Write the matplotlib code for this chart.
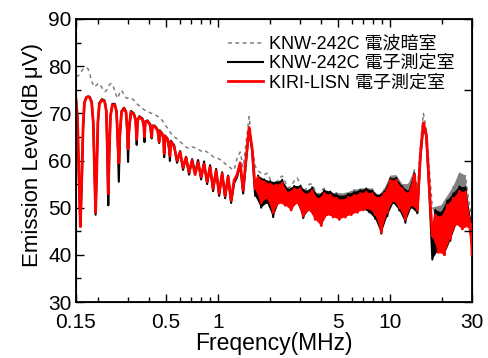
import matplotlib
matplotlib.use('Agg')
import matplotlib.pyplot as plt
from matplotlib.ticker import NullFormatter

plt.rcParams['font.family'] = ['Liberation Sans', 'Noto Sans CJK JP', 'DejaVu Sans']

# Frequencies (MHz) - low band with the comb dips, then the noisy band
freq_lf = [0.150, 0.153, 0.156, 0.159, 0.162, 0.165, 0.168, 0.172, 0.176, 0.180,
           0.185, 0.189, 0.192, 0.195, 0.198, 0.201, 0.205, 0.212, 0.220, 0.225,
           0.228, 0.231, 0.234, 0.238, 0.244, 0.252, 0.258, 0.262, 0.266, 0.270,
           0.276, 0.285, 0.293, 0.298, 0.301, 0.305, 0.313, 0.325, 0.333, 0.338,
           0.342, 0.350, 0.365, 0.372, 0.375, 0.379, 0.390, 0.405, 0.410, 0.413,
           0.417, 0.430, 0.445, 0.452, 0.456, 0.460, 0.475, 0.484, 0.488, 0.493,
           0.510, 0.522, 0.527, 0.533, 0.545]
freq_hf = [0.557, 0.580, 0.604, 0.628, 0.654, 0.681, 0.709, 0.738, 0.768, 0.800,
           0.832, 0.867, 0.902, 0.939, 0.978, 1.018, 1.060, 1.103, 1.148, 1.195,
           1.244, 1.295, 1.349, 1.404, 1.461, 1.521, 1.584, 1.649, 1.716, 1.787,
           1.860, 1.936, 2.016, 2.098, 2.184, 2.274, 2.367, 2.464, 2.565, 2.671,
           2.780, 2.894, 3.013, 3.137, 3.265, 3.399, 3.538, 3.684, 3.835, 3.992,
           4.156, 4.326, 4.503, 4.688, 4.880, 5.081, 5.289, 5.506, 5.732, 5.967,
           6.211, 6.466, 6.731, 7.007, 7.294, 7.593, 7.905, 8.229, 8.566, 8.917,
           9.283, 9.664, 10.06, 10.47, 10.90, 11.35, 11.81, 12.30, 12.80, 13.33,
           13.87, 14.44, 15.03, 15.65, 16.29, 16.96, 17.65, 18.38, 19.13, 19.91,
           20.73, 21.58, 22.46, 23.38, 24.34, 25.34, 26.38, 27.46, 28.59, 29.76,
           30.0]

# KNW-242C, anechoic chamber (dB uV)
grey_lf = [77.8, 77.9, 78.1, 78.5, 79.0, 79.4, 79.6, 79.6, 79.5, 78.5,
           76.8, 76.0, 75.6, 75.8, 76.0, 76.3, 76.3, 75.5, 74.6, 74.8,
           75.2, 75.6, 76.0, 76.3, 76.2, 74.8, 73.6, 73.2, 73.8, 74.5,
           74.9, 74.0, 73.3, 73.2, 73.3, 73.3, 73.3, 72.8, 72.3, 72.1,
           71.9, 71.6, 71.0, 70.8, 70.7, 70.6, 70.4, 70.1, 70.0, 70.0,
           69.9, 69.7, 69.4, 69.3, 69.2, 69.0, 68.5, 68.1, 67.9, 67.6,
           66.9, 66.3, 66.1, 65.8, 65.4]
grey_hf = [65.0, 64.6, 64.0, 63.4, 62.8, 62.6, 62.9, 62.7, 62.4, 62.0,
           62.2, 61.8, 61.4, 60.8, 60.6, 60.3, 60.0, 59.3, 59.0, 58.3,
           58.0, 60.5, 61.8, 58.6, 64.0, 69.3, 62.8, 58.8, 57.8, 57.3,
           57.0, 57.3, 56.0, 54.5, 55.2, 56.3, 56.7, 55.5, 54.2, 54.5,
           55.7, 56.3, 55.0, 53.6, 54.0, 55.0, 55.0, 53.5, 52.8, 53.6,
           54.1, 53.5, 53.0, 51.0, 53.2, 50.5, 53.0, 50.8, 53.3, 51.0,
           53.8, 51.5, 54.0, 52.0, 54.2, 52.0, 54.0, 50.5, 52.5, 50.0,
           54.0, 52.5, 56.8, 54.0, 56.9, 53.0, 55.0, 51.5, 55.0, 54.0,
           58.0, 53.5, 63.0, 70.0, 66.5, 58.0, 50.0, 49.5, 46.0, 50.5,
           46.0, 52.5, 48.5, 54.5, 51.0, 57.5, 52.0, 56.8, 52.0, 48.0,
           43.8]

# KNW-242C, electronics lab
black_lf = [73.0, 69.0, 56.0, 46.0, 55.0, 67.0, 72.3, 73.4, 73.6, 73.5,
            72.5, 68.0, 58.0, 48.5, 58.0, 68.0, 72.2, 73.0, 72.7, 70.7,
            62.0, 50.5, 61.0, 69.5, 72.0, 72.0, 70.5, 64.0, 55.5, 65.0,
            70.5, 71.2, 70.4, 65.5, 59.7, 66.0, 70.5, 70.0, 68.8, 63.3,
            68.5, 69.4, 68.9, 67.3, 63.9, 68.3, 68.5, 67.7, 65.5, 64.7,
            67.4, 67.4, 66.7, 65.5, 63.7, 66.4, 65.8, 64.5, 60.7, 65.3,
            64.7, 62.5, 59.9, 64.2, 63.7]
black_hf = [63.3, 59.5, 62.0, 58.0, 60.8, 57.0, 60.3, 57.3, 60.1, 56.0,
            59.8, 55.0, 59.0, 53.5, 58.2, 52.5, 57.5, 52.0, 56.8, 51.0,
            55.2, 56.5, 59.2, 53.0, 60.0, 66.5, 62.0, 52.5, 56.8, 50.0,
            56.0, 51.0, 55.6, 48.0, 55.4, 51.2, 55.9, 50.7, 53.9, 49.7,
            54.6, 51.2, 54.6, 47.8, 53.5, 49.7, 54.3, 47.7, 52.6, 46.5,
            53.7, 48.7, 53.4, 48.2, 52.8, 47.7, 52.4, 48.2, 52.9, 48.7,
            53.3, 49.2, 53.7, 49.7, 54.0, 49.0, 53.6, 47.6, 52.6, 44.5,
            53.4, 48.2, 56.2, 51.0, 56.3, 49.4, 54.5, 46.8, 53.5, 50.0,
            57.3, 48.8, 60.5, 67.5, 65.0, 53.0, 39.0, 49.5, 41.0, 49.0,
            40.0, 51.5, 43.0, 53.0, 46.5, 54.5, 45.5, 54.3, 46.5, 47.0,
            41.0]

# KIRI-LISN, electronics lab
red_lf = [73.0, 69.0, 57.0, 46.0, 56.0, 67.5, 72.3, 73.3, 73.5, 73.4,
          72.3, 68.0, 58.0, 49.0, 58.0, 68.0, 72.0, 72.8, 72.5, 70.5,
          63.0, 53.0, 62.0, 69.5, 71.8, 71.8, 70.3, 65.0, 59.5, 66.0,
          70.3, 71.0, 70.2, 66.5, 62.5, 67.0, 70.3, 69.8, 68.6, 64.5,
          68.5, 69.2, 68.7, 67.2, 65.0, 68.2, 68.3, 67.5, 66.0, 65.0,
          67.3, 67.2, 66.5, 65.5, 64.0, 66.2, 65.6, 64.5, 61.5, 65.2,
          64.5, 62.5, 61.0, 64.0, 63.5]
red_hf = [63.0, 60.0, 61.8, 58.5, 60.6, 57.5, 60.0, 57.0, 59.6, 56.5,
          59.2, 55.5, 58.6, 54.0, 57.8, 53.0, 57.2, 52.5, 56.6, 51.5,
          55.8, 57.0, 59.5, 53.7, 60.5, 67.0, 62.5, 54.0, 56.5, 51.0,
          55.5, 52.0, 55.0, 48.9, 54.8, 51.0, 55.2, 50.5, 53.2, 49.5,
          54.0, 51.0, 54.0, 48.2, 52.8, 49.5, 53.6, 47.5, 51.8, 46.2,
          53.0, 48.5, 52.7, 48.0, 52.0, 47.5, 51.6, 48.0, 52.2, 48.5,
          52.6, 49.0, 53.0, 49.5, 53.3, 49.8, 53.0, 48.5, 52.0, 44.8,
          53.0, 49.0, 55.8, 51.5, 55.8, 50.0, 54.0, 47.5, 53.0, 50.5,
          57.0, 49.5, 61.0, 68.0, 65.5, 54.0, 44.0, 48.5, 40.5, 48.0,
          40.0, 50.5, 43.5, 52.0, 46.5, 53.5, 45.5, 53.3, 46.0, 46.5,
          40.0]

labels = ['KNW-242C 電波暗室', 'KNW-242C 電子測定室', 'KIRI-LISN 電子測定室']
x_major = [0.15, 0.5, 1, 5, 10, 30]
x_major_labels = ['0.15', '0.5', '1', '5', '10', '30']
x_minor = [0.2, 0.3, 0.4, 0.6, 0.7, 0.8, 0.9, 2, 3, 4, 6, 7, 8, 9, 20]

# stretches of the trace that are dense noise (index ranges into *_hf)
noisy_spans = [(27, 82), (86, 101)]


def shade_band(ax, f, y, color, z):
    # fill between the local peaks and local troughs of a noisy trace
    up, lo = [], []
    for i in range(len(y)):
        prev = y[i - 1] if i > 0 else y[i]
        nxt = y[i + 1] if i < len(y) - 1 else y[i]
        if y[i] >= prev and y[i] >= nxt:
            up.append((f[i], y[i]))
        if y[i] <= prev and y[i] <= nxt:
            lo.append((f[i], y[i]))
    pts = up + lo[::-1]
    ax.fill([p[0] for p in pts], [p[1] for p in pts], color=color, lw=0, zorder=z)


freq = freq_lf + freq_hf

fig = plt.figure(figsize=(4.89, 3.58), dpi=100)
ax = fig.add_axes([76 / 489, 1 - 302 / 358, 396 / 489, 283 / 358])

for a, b in noisy_spans:
    shade_band(ax, freq_hf[max(a, 53):b], grey_hf[max(a, 53):b], '#808080', 1)
    shade_band(ax, freq_hf[a:b], black_hf[a:b], 'black', 2)
    shade_band(ax, freq_hf[a:b], red_hf[a:b], 'red', 3)

ax.plot(freq, grey_lf + grey_hf, color='#808080', lw=1.1, ls=(0, (2.5, 2.3)),
        label=labels[0], zorder=1.5)
ax.plot(freq, black_lf + black_hf, color='black', lw=1.5, label=labels[1], zorder=2.5)
ax.plot(freq, red_lf + red_hf, color='red', lw=2.0, label=labels[2], zorder=3.5)

ax.set_xscale('log')
ax.set_xlim(0.15, 30)
ax.set_ylim(30, 90)
ax.set_xticks(x_major)
ax.set_xticklabels(x_major_labels)
ax.set_xticks(x_minor, minor=True)
ax.xaxis.set_minor_formatter(NullFormatter())
ax.set_yticks(range(30, 91, 10))
ax.set_yticks(range(35, 90, 10), minor=True)
ax.tick_params(which='both', direction='in', top=True, width=1, labelsize=15)
ax.tick_params(which='major', length=6)
ax.tick_params(which='minor', length=3.5)
ax.tick_params(axis='x', pad=8)
ax.tick_params(axis='y', pad=3)
for s in ax.spines.values():
    s.set_linewidth(1.3)

ax2 = ax.twinx()
ax2.set_ylim(30, 90)
ax2.set_yticks(range(30, 91, 15))
ax2.tick_params(direction='in', length=6, width=1, labelright=False)

ax.set_xlabel('Freqency(MHz)', fontsize=16.5, labelpad=0)
ax.set_ylabel('Emission Level(dB\u2009\u03bcV)', fontsize=16, labelpad=4, y=0.52)

ax.legend(loc='upper left', bbox_to_anchor=(0.384, 0.94), frameon=False, fontsize=13,
          handlelength=1.95, handletextpad=0.3, labelspacing=0.12, borderpad=0,
          borderaxespad=0)

fig.savefig('out.png', dpi=100)
